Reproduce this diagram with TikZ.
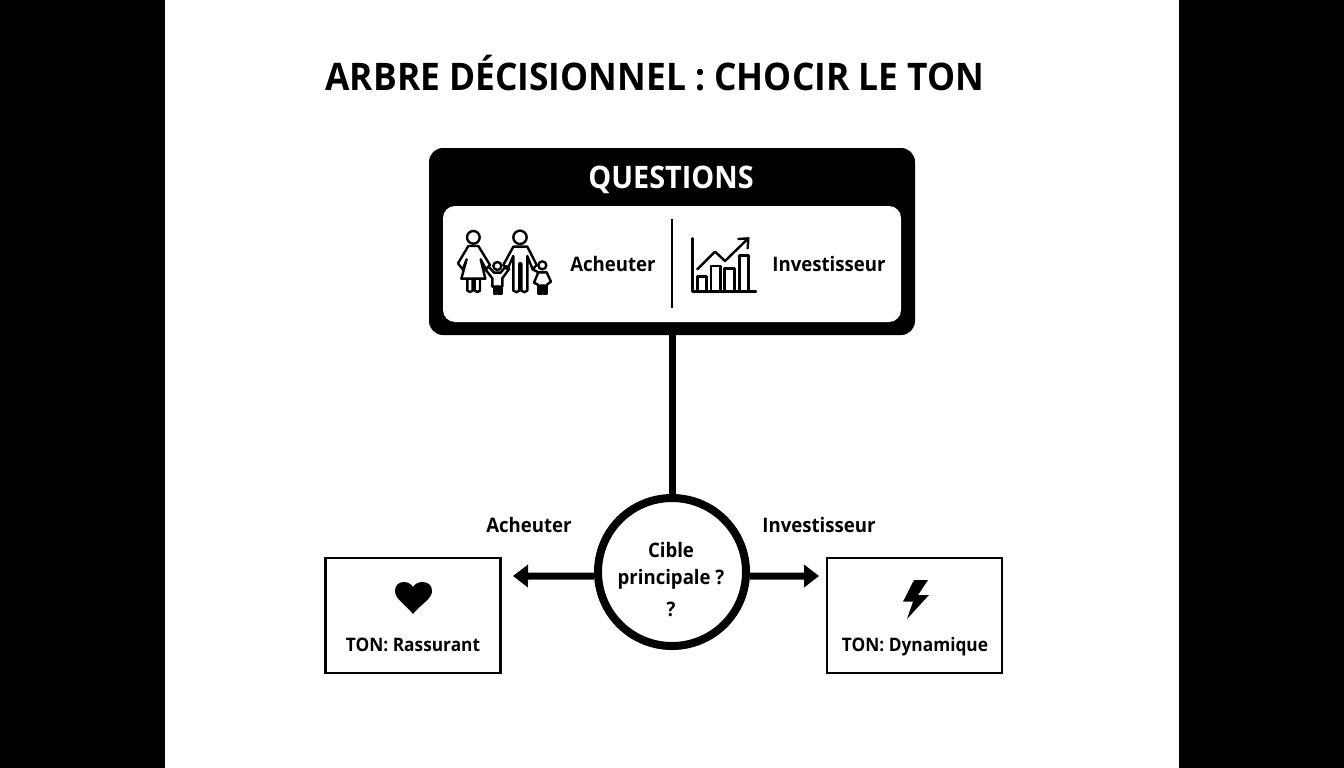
\documentclass[tikz,border=0pt]{standalone}
\usepackage{fontspec}
\setmainfont[FakeStretch=0.93]{Open Sans}
\usetikzlibrary{arrows.meta}
\tikzset{
  x=1pt,y=-1pt,
  lbl/.style={font=\bfseries\fontsize{20}{24}\selectfont,text=black,inner sep=0pt,anchor=base},
  tonlbl/.style={font=\bfseries\fontsize{18.6}{22}\selectfont,text=black,inner sep=0pt,anchor=base},
  tonbox/.style={draw=black,line width=2.5pt,fill=white,minimum width=175pt,minimum height=115pt,inner sep=0pt},
  arrowconn/.style={line width=7pt,-{Triangle[width=22pt,length=15pt]}},
  icon/.style={line width=2.4pt,line join=round,line cap=round,fill=none},
}
\begin{document}
\begin{tikzpicture}
\useasboundingbox (0,0) rectangle (1344,768);
\fill[black] (0,0) rectangle (1344,768);
\fill[white] (165,0) rectangle (1179,768);
\node[font=\bfseries\fontsize{38}{46}\selectfont,inner sep=0pt,anchor=base] (title) at (655,91) {ARBRE DÉCISIONNEL : CHOCIR LE TON};
% questions box
\node[fill=black,rounded corners=14pt,minimum width=486pt,minimum height=187pt,inner sep=0pt] (qbox) at (672,241.5) {};
\node[fill=white,rounded corners=12pt,minimum width=458pt,minimum height=116pt,inner sep=0pt] (qinner) at (672,264) {};
\node[font=\bfseries\fontsize{31}{37}\selectfont,text=white,inner sep=0pt,anchor=base] (qtitle) at (671,188) {QUESTIONS};
\coordinate (divtop) at (671.5,219);
\coordinate (divbot) at (671.5,308);
\draw[line width=2pt] (divtop) -- (divbot);
\node[lbl] (qa) at (613,271) {Acheuter};
\node[lbl] (qi) at (829,271) {Investisseur};
% family icon
\begin{scope}[shift={(450,220)},scale=0.3333,icon]
  \draw (70,52) circle (19);
  \draw (55,78) -- (24,130) -- (38,148) -- (50,118) -- (34,176) -- (106,176) -- (92,118) -- (108,148) -- (120,135) -- (85,78) -- cycle;
  \draw (52,176) -- (52,212) to[bend right=60] (68,212) -- (68,176);
  \draw (74,176) -- (74,212) to[bend right=60] (90,212) -- (90,176);
  \draw (210,52) circle (20);
  \draw (190,80) -- (160,135) -- (172,148) -- (190,108) -- (190,212) to[bend right=60] (208,212) -- (208,130) -- (214,130) -- (214,212) to[bend right=60] (232,212) -- (232,108) -- (248,148) -- (260,135) -- (232,80) -- cycle;
  \draw (142,138) circle (12);
  \draw (116,140) -- (132,158) -- (152,158) -- (168,138) -- (178,146) -- (157,175) -- (157,200) -- (127,200) -- (127,175) -- (106,148) -- cycle;
  \draw (132,200) -- (132,222) -- (140,222) -- (140,200);
  \draw (146,200) -- (146,222) -- (154,222) -- (154,200);
  \draw (277,136) circle (12);
  \draw (248,148) -- (265,157);
  \draw (265,157) -- (290,157) -- (303,185) -- (292,193) -- (290,197) -- (264,197) -- (262,193) -- (252,188) -- cycle;
  \draw (265,197) -- (265,222) -- (274,222) -- (274,197);
  \draw (281,197) -- (281,222) -- (290,222) -- (290,197);
\end{scope}
% chart icon
\begin{scope}[shift={(680,225)},scale=0.3333,icon]
  \draw (37,40) -- (37,200) -- (228,200);
  \draw (52,200) -- (52,155) -- (80,155) -- (80,200);
  \draw (93,200) -- (93,123) -- (122,123) -- (122,200);
  \draw (134,200) -- (134,130) -- (163,130) -- (163,200);
  \draw (178,200) -- (178,92) -- (205,92) -- (205,200);
  \draw (52,133) -- (105,80) -- (135,108) -- (203,42);
  \draw (175,42) -- (205,40) -- (203,70);
\end{scope}
% decision
\node[draw=black,line width=8pt,circle,fill=white,minimum size=148pt,inner sep=0pt] (cible) at (672,572) {};
\draw[line width=7pt] (qbox.south) -- (cible.north);
\node[lbl] (c1) at (671,557) {Cible};
\node[lbl] (c2) at (671,584) {principale ?};
\node[lbl] (c3) at (671,616) {?};
\node[tonbox] (ta) at (413,615.5) {};
\node[tonbox] (td) at (914.5,615.5) {};
\node[tonlbl] (tat) at (413,651) {TON: Rassurant};
\node[tonlbl] (tdt) at (915,651) {TON: Dynamique};
\coordinate (al) at (513,576);
\coordinate (ar) at (819,576);
\draw[arrowconn] (cible.183) -- (al);
\draw[arrowconn] (cible.-3) -- (ar);
\node[lbl] (la) at (529,532) {Acheuter};
\node[lbl] (li) at (819,532) {Investisseur};
% heart
\fill[black] (413,614) .. controls (405,604) and (395,599) .. (395,591) .. controls (395,585) and (399,582) .. (404,582) .. controls (408,582) and (411,584) .. (413,587) .. controls (415,584) and (418,582) .. (422,582) .. controls (428,582) and (432,585) .. (432,591) .. controls (432,599) and (421,604) .. (413,614) -- cycle;
% bolt
\fill[black] (914,580) -- (928,580) -- (918,595) -- (929,595) -- (907,619) -- (913,601.7) -- (903,601.7) -- cycle;
\end{tikzpicture}
\end{document}
